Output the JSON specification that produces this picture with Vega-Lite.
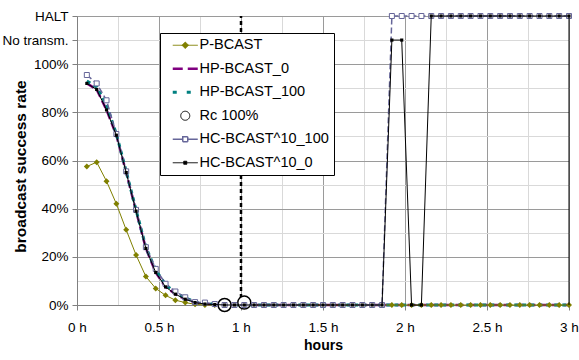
{
"$schema": "https://vega.github.io/schema/vega-lite/v6.json",
"width": 492, "height": 289,
"autosize": {"type": "none"},
"padding": {"left": 77, "top": 16, "right": 10, "bottom": 55},
"background": "white",
"config": {
  "font": "Liberation Sans",
  "view": {"stroke": null},
  "axis": {"labelFontSize": 13.5, "labelColor": "#000000", "titleFontSize": 14, "titleFontWeight": "bold", "titleColor": "#000000", "domainColor": "#808080", "tickColor": "#808080", "tickSize": 5, "labelOverlap": false, "labelFlush": false}
},
"data": {"values": [
{"s":"P-BCAST","t":0.06,"v":57.5},{"s":"P-BCAST","t":0.12,"v":59.3},{"s":"P-BCAST","t":0.18,"v":51.4},{"s":"P-BCAST","t":0.24,"v":42},{"s":"P-BCAST","t":0.3,"v":31.2},{"s":"P-BCAST","t":0.36,"v":20.8},{"s":"P-BCAST","t":0.42,"v":11.8},{"s":"P-BCAST","t":0.48,"v":6.9},{"s":"P-BCAST","t":0.54,"v":4},{"s":"P-BCAST","t":0.6,"v":2},{"s":"P-BCAST","t":0.66,"v":1},{"s":"P-BCAST","t":0.72,"v":0.3},{"s":"P-BCAST","t":0.78,"v":0},{"s":"P-BCAST","t":0.84,"v":0},{"s":"P-BCAST","t":0.9,"v":0},{"s":"P-BCAST","t":0.96,"v":0},{"s":"P-BCAST","t":1.02,"v":0},{"s":"P-BCAST","t":1.08,"v":0},{"s":"P-BCAST","t":1.14,"v":0},{"s":"P-BCAST","t":1.2,"v":0},{"s":"P-BCAST","t":1.26,"v":0},{"s":"P-BCAST","t":1.32,"v":0},{"s":"P-BCAST","t":1.38,"v":0},{"s":"P-BCAST","t":1.44,"v":0},{"s":"P-BCAST","t":1.5,"v":0},{"s":"P-BCAST","t":1.56,"v":0},{"s":"P-BCAST","t":1.62,"v":0},{"s":"P-BCAST","t":1.68,"v":0},{"s":"P-BCAST","t":1.74,"v":0},{"s":"P-BCAST","t":1.8,"v":0},{"s":"P-BCAST","t":1.86,"v":0},{"s":"P-BCAST","t":1.92,"v":0},{"s":"P-BCAST","t":1.98,"v":0},{"s":"P-BCAST","t":2.04,"v":0},{"s":"P-BCAST","t":2.1,"v":0},{"s":"P-BCAST","t":2.16,"v":0},{"s":"P-BCAST","t":2.22,"v":0},{"s":"P-BCAST","t":2.28,"v":0},{"s":"P-BCAST","t":2.34,"v":0},{"s":"P-BCAST","t":2.4,"v":0},{"s":"P-BCAST","t":2.46,"v":0},{"s":"P-BCAST","t":2.52,"v":0},{"s":"P-BCAST","t":2.58,"v":0},{"s":"P-BCAST","t":2.64,"v":0},{"s":"P-BCAST","t":2.7,"v":0},{"s":"P-BCAST","t":2.76,"v":0},{"s":"P-BCAST","t":2.82,"v":0},{"s":"P-BCAST","t":2.88,"v":0},{"s":"P-BCAST","t":2.94,"v":0},{"s":"P-BCAST","t":3,"v":0},
{"s":"HP-BCAST_0","t":0.06,"v":92},{"s":"HP-BCAST_0","t":0.12,"v":89.5},{"s":"HP-BCAST_0","t":0.18,"v":81},{"s":"HP-BCAST_0","t":0.24,"v":70.5},{"s":"HP-BCAST_0","t":0.3,"v":55},{"s":"HP-BCAST_0","t":0.36,"v":39},{"s":"HP-BCAST_0","t":0.42,"v":23.5},{"s":"HP-BCAST_0","t":0.48,"v":13.5},{"s":"HP-BCAST_0","t":0.54,"v":7.5},{"s":"HP-BCAST_0","t":0.6,"v":4.5},{"s":"HP-BCAST_0","t":0.66,"v":2.4},{"s":"HP-BCAST_0","t":0.72,"v":1},{"s":"HP-BCAST_0","t":0.78,"v":0.4},{"s":"HP-BCAST_0","t":0.84,"v":0.2},{"s":"HP-BCAST_0","t":0.9,"v":0},{"s":"HP-BCAST_0","t":0.96,"v":0},{"s":"HP-BCAST_0","t":1.02,"v":0},{"s":"HP-BCAST_0","t":1.08,"v":0},{"s":"HP-BCAST_0","t":1.14,"v":0},{"s":"HP-BCAST_0","t":1.2,"v":0},{"s":"HP-BCAST_0","t":1.26,"v":0},{"s":"HP-BCAST_0","t":1.32,"v":0},{"s":"HP-BCAST_0","t":1.38,"v":0},{"s":"HP-BCAST_0","t":1.44,"v":0},{"s":"HP-BCAST_0","t":1.5,"v":0},{"s":"HP-BCAST_0","t":1.56,"v":0},{"s":"HP-BCAST_0","t":1.62,"v":0},{"s":"HP-BCAST_0","t":1.68,"v":0},{"s":"HP-BCAST_0","t":1.74,"v":0},{"s":"HP-BCAST_0","t":1.8,"v":0},{"s":"HP-BCAST_0","t":1.86,"v":0},{"s":"HP-BCAST_0","t":1.92,"v":0},{"s":"HP-BCAST_0","t":1.98,"v":0},{"s":"HP-BCAST_0","t":2.04,"v":0},{"s":"HP-BCAST_0","t":2.1,"v":0},{"s":"HP-BCAST_0","t":2.16,"v":0},{"s":"HP-BCAST_0","t":2.22,"v":0},{"s":"HP-BCAST_0","t":2.28,"v":0},{"s":"HP-BCAST_0","t":2.34,"v":0},{"s":"HP-BCAST_0","t":2.4,"v":0},{"s":"HP-BCAST_0","t":2.46,"v":0},{"s":"HP-BCAST_0","t":2.52,"v":0},{"s":"HP-BCAST_0","t":2.58,"v":0},{"s":"HP-BCAST_0","t":2.64,"v":0},{"s":"HP-BCAST_0","t":2.7,"v":0},{"s":"HP-BCAST_0","t":2.76,"v":0},{"s":"HP-BCAST_0","t":2.82,"v":0},{"s":"HP-BCAST_0","t":2.88,"v":0},{"s":"HP-BCAST_0","t":2.94,"v":0},{"s":"HP-BCAST_0","t":3,"v":0},
{"s":"HP-BCAST_100","t":0.06,"v":93},{"s":"HP-BCAST_100","t":0.12,"v":90.5},{"s":"HP-BCAST_100","t":0.18,"v":83},{"s":"HP-BCAST_100","t":0.24,"v":71},{"s":"HP-BCAST_100","t":0.3,"v":55.5},{"s":"HP-BCAST_100","t":0.36,"v":39.5},{"s":"HP-BCAST_100","t":0.42,"v":24},{"s":"HP-BCAST_100","t":0.48,"v":14.5},{"s":"HP-BCAST_100","t":0.54,"v":8.5},{"s":"HP-BCAST_100","t":0.6,"v":5},{"s":"HP-BCAST_100","t":0.66,"v":3},{"s":"HP-BCAST_100","t":0.72,"v":1.2},{"s":"HP-BCAST_100","t":0.78,"v":0.8},{"s":"HP-BCAST_100","t":0.84,"v":0.3},{"s":"HP-BCAST_100","t":0.9,"v":0},{"s":"HP-BCAST_100","t":0.96,"v":0},{"s":"HP-BCAST_100","t":1.02,"v":0},{"s":"HP-BCAST_100","t":1.08,"v":0},{"s":"HP-BCAST_100","t":1.14,"v":0},{"s":"HP-BCAST_100","t":1.2,"v":0},{"s":"HP-BCAST_100","t":1.26,"v":0},{"s":"HP-BCAST_100","t":1.32,"v":0},{"s":"HP-BCAST_100","t":1.38,"v":0},{"s":"HP-BCAST_100","t":1.44,"v":0},{"s":"HP-BCAST_100","t":1.5,"v":0},{"s":"HP-BCAST_100","t":1.56,"v":0},{"s":"HP-BCAST_100","t":1.62,"v":0},{"s":"HP-BCAST_100","t":1.68,"v":0},{"s":"HP-BCAST_100","t":1.74,"v":0},{"s":"HP-BCAST_100","t":1.8,"v":0},{"s":"HP-BCAST_100","t":1.86,"v":0},{"s":"HP-BCAST_100","t":1.92,"v":0},{"s":"HP-BCAST_100","t":1.98,"v":0},{"s":"HP-BCAST_100","t":2.04,"v":0},{"s":"HP-BCAST_100","t":2.1,"v":0},{"s":"HP-BCAST_100","t":2.16,"v":0},{"s":"HP-BCAST_100","t":2.22,"v":0},{"s":"HP-BCAST_100","t":2.28,"v":0},{"s":"HP-BCAST_100","t":2.34,"v":0},{"s":"HP-BCAST_100","t":2.4,"v":0},{"s":"HP-BCAST_100","t":2.46,"v":0},{"s":"HP-BCAST_100","t":2.52,"v":0},{"s":"HP-BCAST_100","t":2.58,"v":0},{"s":"HP-BCAST_100","t":2.64,"v":0},{"s":"HP-BCAST_100","t":2.7,"v":0},{"s":"HP-BCAST_100","t":2.76,"v":0},{"s":"HP-BCAST_100","t":2.82,"v":0},{"s":"HP-BCAST_100","t":2.88,"v":0},{"s":"HP-BCAST_100","t":2.94,"v":0},{"s":"HP-BCAST_100","t":3,"v":0},
{"s":"Rc 100%","t":0.9,"v":0},{"s":"Rc 100%","t":1.02,"v":1},
{"s":"HC-BCAST^10_100","t":0.06,"v":95.5},{"s":"HC-BCAST^10_100","t":0.12,"v":92},{"s":"HC-BCAST^10_100","t":0.18,"v":85},{"s":"HC-BCAST^10_100","t":0.24,"v":71},{"s":"HC-BCAST^10_100","t":0.3,"v":55.5},{"s":"HC-BCAST^10_100","t":0.36,"v":39.5},{"s":"HC-BCAST^10_100","t":0.42,"v":24},{"s":"HC-BCAST^10_100","t":0.48,"v":15},{"s":"HC-BCAST^10_100","t":0.54,"v":8.8},{"s":"HC-BCAST^10_100","t":0.6,"v":5.6},{"s":"HC-BCAST^10_100","t":0.66,"v":3.2},{"s":"HC-BCAST^10_100","t":0.72,"v":1.2},{"s":"HC-BCAST^10_100","t":0.78,"v":1},{"s":"HC-BCAST^10_100","t":0.84,"v":0.4},{"s":"HC-BCAST^10_100","t":0.9,"v":0},{"s":"HC-BCAST^10_100","t":0.96,"v":0},{"s":"HC-BCAST^10_100","t":1.02,"v":0},{"s":"HC-BCAST^10_100","t":1.08,"v":0},{"s":"HC-BCAST^10_100","t":1.14,"v":0},{"s":"HC-BCAST^10_100","t":1.2,"v":0},{"s":"HC-BCAST^10_100","t":1.26,"v":0},{"s":"HC-BCAST^10_100","t":1.32,"v":0},{"s":"HC-BCAST^10_100","t":1.38,"v":0},{"s":"HC-BCAST^10_100","t":1.44,"v":0},{"s":"HC-BCAST^10_100","t":1.5,"v":0},{"s":"HC-BCAST^10_100","t":1.56,"v":0},{"s":"HC-BCAST^10_100","t":1.62,"v":0},{"s":"HC-BCAST^10_100","t":1.68,"v":0},{"s":"HC-BCAST^10_100","t":1.74,"v":0},{"s":"HC-BCAST^10_100","t":1.8,"v":0},{"s":"HC-BCAST^10_100","t":1.86,"v":0},{"s":"HC-BCAST^10_100","t":1.92,"v":120},{"s":"HC-BCAST^10_100","t":1.98,"v":120},{"s":"HC-BCAST^10_100","t":2.04,"v":120},{"s":"HC-BCAST^10_100","t":2.1,"v":120},{"s":"HC-BCAST^10_100","t":2.16,"v":120},{"s":"HC-BCAST^10_100","t":2.22,"v":120},{"s":"HC-BCAST^10_100","t":2.28,"v":120},{"s":"HC-BCAST^10_100","t":2.34,"v":120},{"s":"HC-BCAST^10_100","t":2.4,"v":120},{"s":"HC-BCAST^10_100","t":2.46,"v":120},{"s":"HC-BCAST^10_100","t":2.52,"v":120},{"s":"HC-BCAST^10_100","t":2.58,"v":120},{"s":"HC-BCAST^10_100","t":2.64,"v":120},{"s":"HC-BCAST^10_100","t":2.7,"v":120},{"s":"HC-BCAST^10_100","t":2.76,"v":120},{"s":"HC-BCAST^10_100","t":2.82,"v":120},{"s":"HC-BCAST^10_100","t":2.88,"v":120},{"s":"HC-BCAST^10_100","t":2.94,"v":120},{"s":"HC-BCAST^10_100","t":3,"v":120},
{"s":"HC-BCAST^10_0","k":1,"t":0.06,"v":92},{"s":"HC-BCAST^10_0","k":2,"t":0.12,"v":89.5},{"s":"HC-BCAST^10_0","k":3,"t":0.18,"v":81},{"s":"HC-BCAST^10_0","k":4,"t":0.24,"v":70.5},{"s":"HC-BCAST^10_0","k":5,"t":0.3,"v":55},{"s":"HC-BCAST^10_0","k":6,"t":0.36,"v":39},{"s":"HC-BCAST^10_0","k":7,"t":0.42,"v":23.5},{"s":"HC-BCAST^10_0","k":8,"t":0.48,"v":13.5},{"s":"HC-BCAST^10_0","k":9,"t":0.54,"v":7.5},{"s":"HC-BCAST^10_0","k":10,"t":0.6,"v":4.5},{"s":"HC-BCAST^10_0","k":11,"t":0.66,"v":2.4},{"s":"HC-BCAST^10_0","k":12,"t":0.72,"v":1},{"s":"HC-BCAST^10_0","k":13,"t":0.78,"v":0.4},{"s":"HC-BCAST^10_0","k":14,"t":0.84,"v":0.2},{"s":"HC-BCAST^10_0","k":15,"t":0.9,"v":0},{"s":"HC-BCAST^10_0","k":16,"t":0.96,"v":0},{"s":"HC-BCAST^10_0","k":17,"t":1.02,"v":0},{"s":"HC-BCAST^10_0","k":18,"t":1.08,"v":0},{"s":"HC-BCAST^10_0","k":19,"t":1.14,"v":0},{"s":"HC-BCAST^10_0","k":20,"t":1.2,"v":0},{"s":"HC-BCAST^10_0","k":21,"t":1.26,"v":0},{"s":"HC-BCAST^10_0","k":22,"t":1.32,"v":0},{"s":"HC-BCAST^10_0","k":23,"t":1.38,"v":0},{"s":"HC-BCAST^10_0","k":24,"t":1.44,"v":0},{"s":"HC-BCAST^10_0","k":25,"t":1.5,"v":0},{"s":"HC-BCAST^10_0","k":26,"t":1.56,"v":0},{"s":"HC-BCAST^10_0","k":27,"t":1.62,"v":0},{"s":"HC-BCAST^10_0","k":28,"t":1.68,"v":0},{"s":"HC-BCAST^10_0","k":29,"t":1.74,"v":0},{"s":"HC-BCAST^10_0","k":30,"t":1.8,"v":0},{"s":"HC-BCAST^10_0","k":31,"t":1.86,"v":0},{"s":"HC-BCAST^10_0","k":32,"t":1.92,"v":110},{"s":"HC-BCAST^10_0","k":33,"t":1.98,"v":110},{"s":"HC-BCAST^10_0","k":34,"t":2.04,"v":0},{"s":"HC-BCAST^10_0","k":35,"t":2.1,"v":0},{"s":"HC-BCAST^10_0","k":36,"t":2.16,"v":120},{"s":"HC-BCAST^10_0","k":37,"t":2.22,"v":120},{"s":"HC-BCAST^10_0","k":38,"t":2.28,"v":120},{"s":"HC-BCAST^10_0","k":39,"t":2.34,"v":120},{"s":"HC-BCAST^10_0","k":40,"t":2.4,"v":120},{"s":"HC-BCAST^10_0","k":41,"t":2.46,"v":120},{"s":"HC-BCAST^10_0","k":42,"t":2.52,"v":120},{"s":"HC-BCAST^10_0","k":43,"t":2.58,"v":120},{"s":"HC-BCAST^10_0","k":44,"t":2.64,"v":120},{"s":"HC-BCAST^10_0","k":45,"t":2.7,"v":120},{"s":"HC-BCAST^10_0","k":46,"t":2.76,"v":120},{"s":"HC-BCAST^10_0","k":47,"t":2.82,"v":120},{"s":"HC-BCAST^10_0","k":48,"t":2.88,"v":120},{"s":"HC-BCAST^10_0","k":49,"t":2.94,"v":120},{"s":"HC-BCAST^10_0","k":50,"t":3,"v":120},{"s":"HC-BCAST^10_0","k":51,"t":3,"v":0}
]},
"encoding": {
  "x": {"field": "t", "type": "quantitative", "scale": {"domain": [0, 3], "nice": false, "zero": false},
    "axis": {"title": "hours", "values": [0,0.25,0.5,0.75,1,1.25,1.5,1.75,2,2.25,2.5,2.75,3],
      "labelExpr": "datum.value % 0.5 === 0 ? datum.value + ' h' : ''",
      "gridColor": {"condition": {"test": "datum.value % 0.5 === 0", "value": "#9a9a9a"}, "value": "#d9d9d9"},
      "tickOpacity": {"condition": {"test": "datum.value % 0.5 === 0", "value": 1}, "value": 0},
      "labelPadding": 10, "titlePadding": 5}},
  "y": {"field": "v", "type": "quantitative", "scale": {"domain": [0, 120], "nice": false},
    "axis": {"title": "broadcast success rate", "values": [0,10,20,30,40,50,60,70,80,90,100,110,120],
      "labelExpr": "datum.value === 120 ? 'HALT' : datum.value === 110 ? 'No transm.' : (datum.value % 20 === 0 ? datum.value + '%' : '')",
      "gridColor": {"condition": {"test": "datum.value % 20 === 0", "value": "#9a9a9a"}, "value": "#d9d9d9"},
      "tickOpacity": {"condition": {"test": "datum.value % 20 === 0 || datum.value === 110", "value": 1}, "value": 0},
      "labelPadding": 4, "titleX": -52, "titleY": 150, "titleBaseline": "alphabetic", "titleFontSize": 15.5}},
  "color": {"field": "s", "type": "nominal",
    "scale": {"domain": ["P-BCAST", "HP-BCAST_0", "HP-BCAST_100", "Rc 100%", "HC-BCAST^10_100", "HC-BCAST^10_0"],
              "range": ["#808000", "#800080", "#008080", "#000000", "#666699", "#000000"]},
    "legend": {"orient": "none", "legendX": 83, "legendY": 17, "title": null,
      "padding": 5, "symbolOffset": 13, "labelOffset": 7, "rowPadding": 8.5,
      "labelFontSize": 14.5, "labelFont": "Liberation Sans", "labelColor": "#000000", "labelLimit": 300,
      "fillColor": "#ffffff", "strokeColor": "#000000", "symbolSize": 625, "symbolStrokeWidth": 1,
      "encode": {"symbols": {"update": {
        "shape": {"signal": "datum.value === 'P-BCAST' ? 'M-1,0L1,0M0,-0.26L0.26,0L0,0.26L-0.26,0Z' : datum.value === 'Rc 100%' ? 'circle' : datum.value === 'HC-BCAST^10_100' ? 'M-1,0L-0.2,0M0.2,0L1,0M-0.2,-0.2L0.2,-0.2L0.2,0.2L-0.2,0.2Z' : datum.value === 'HC-BCAST^10_0' ? 'M-1,0L1,0M-0.12,-0.12L0.12,-0.12L0.12,0.12L-0.12,0.12Z' : 'M-1,0L1,0'"},
        "size": {"signal": "datum.value === 'Rc 100%' ? 81 : 625"},
        "fill": {"signal": "datum.value === 'P-BCAST' ? '#808000' : datum.value === 'HC-BCAST^10_0' ? '#000000' : (datum.value === 'Rc 100%' || datum.value === 'HC-BCAST^10_100') ? '#ffffff' : 'transparent'"},
        "stroke": {"signal": "scale('color', datum.value)"},
        "strokeDash": {"signal": "datum.value === 'HP-BCAST_0' ? [10, 5] : datum.value === 'HP-BCAST_100' ? [4, 10] : [1, 0]"},
        "strokeWidth": {"signal": "datum.value === 'HP-BCAST_0' ? 2.5 : datum.value === 'HP-BCAST_100' ? 3 : datum.value === 'HC-BCAST^10_100' ? 1.5 : 1"},
        "opacity": {"value": 1}
      }}}}}
},
"layer": [
  {"data": {"values": [{"t": 1, "v": 0, "v2": 120}]}, "mark": {"type": "rule", "strokeWidth": 2.5, "strokeDash": [4, 3]}, "encoding": {"y2": {"field": "v2"}, "color": {"value": "#000000"}}},
  {"transform": [{"filter": "datum.s === 'HP-BCAST_0'"}], "mark": {"type": "line", "strokeWidth": 2.5, "strokeDash": [8, 4]}},
  {"transform": [{"filter": "datum.s === 'HP-BCAST_100'"}], "mark": {"type": "line", "strokeWidth": 3, "strokeDash": [4, 4]}},
  {"transform": [{"filter": "datum.s === 'P-BCAST'"}], "mark": {"type": "line", "strokeWidth": 1}},
  {"transform": [{"filter": "datum.s === 'P-BCAST'"}], "mark": {"type": "point", "shape": "diamond", "filled": true, "size": 36, "opacity": 1}, "encoding": {"color": {"value": "#808000"}}},
  {"transform": [{"filter": "datum.s === 'Rc 100%'"}], "mark": {"type": "point", "shape": "circle", "filled": false, "fill": "#ffffff", "size": 169, "strokeWidth": 1.5, "opacity": 1}, "encoding": {"color": {"value": "#000000"}}},
  {"transform": [{"filter": "datum.s === 'HC-BCAST^10_100'"}], "mark": {"type": "line", "strokeWidth": 1.5, "strokeDash": [6, 3]}},
  {"transform": [{"filter": "datum.s === 'HC-BCAST^10_100'"}], "mark": {"type": "point", "shape": "square", "filled": false, "fill": "#ffffff", "size": 25, "strokeWidth": 1, "opacity": 1}, "encoding": {"color": {"value": "#666699"}}},
  {"transform": [{"filter": "datum.s === 'HC-BCAST^10_0'"}], "mark": {"type": "line", "strokeWidth": 1}, "encoding": {"order": {"field": "k", "type": "quantitative"}}},
  {"transform": [{"filter": "datum.s === 'HC-BCAST^10_0' && datum.k <= 50"}], "mark": {"type": "point", "shape": "square", "filled": true, "size": 10, "opacity": 1}, "encoding": {"color": {"value": "#000000"}}}
]
}
